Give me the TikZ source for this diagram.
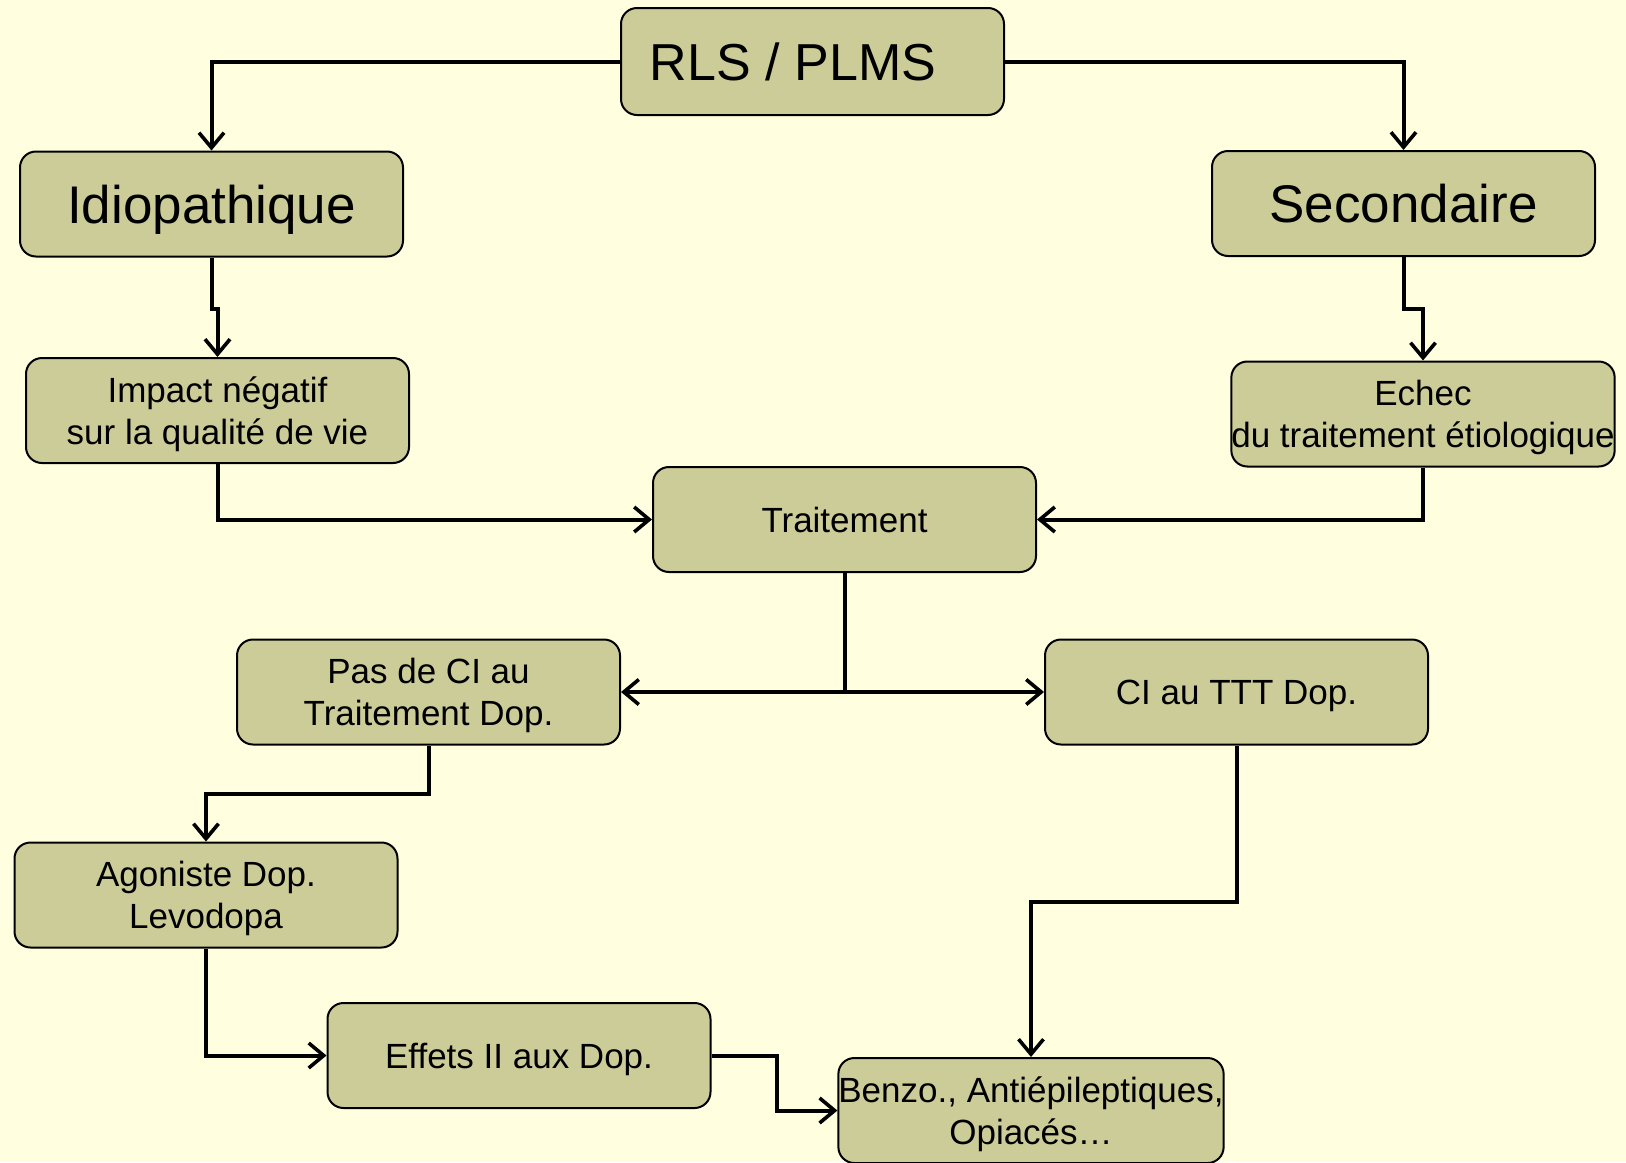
\documentclass[tikz,border=0pt]{standalone}
\usepackage{fontspec}
\setmainfont{Liberation Sans}
\usetikzlibrary{arrows.meta}
\definecolor{bgyellow}{HTML}{FFFFE0}
\definecolor{boxfill}{HTML}{CCCC99}
\tikzset{
  box/.style={draw=black, line width=1pt, fill=boxfill, rounded corners=8pt,
    minimum width=191.5pt, minimum height=52.5pt, inner sep=0pt, align=center,
    text depth=-2pt, font=\fontsize{17.5}{21}\selectfont},
  bigbox/.style={box, text depth=0pt, font=\fontsize{26.5}{30}\selectfont},
  conn/.style={line width=2pt, line join=miter},
  arr/.style={conn, -{Straight Barb[length=7.5pt,width=12.5pt,line width=1.8pt]}}
}
\begin{document}
\begin{tikzpicture}[x=0.5pt, y=-0.5pt]
\fill[bgyellow] (0,0) rectangle (1626,1162);
\useasboundingbox (0,0) rectangle (1626,1162);

\node[bigbox, minimum height=53.5pt] (rls) at (812.5,61.5) {};
\node[font=\fontsize{26}{30}\selectfont, text depth=0pt, inner sep=0pt] (rlst) at (793,61.5) {RLS / PLMS};
\node[bigbox] (idio) at (211.5,204) {Idiopathique};
\node[bigbox] (sec) at (1403.5,203.5) {Secondaire};
\node[box] (impact) at (217.5,410.5) {Impact négatif\\sur la qualité de vie};
\node[box] (echec) at (1423,414) {Echec\\du traitement étiologique};
\node[box] (trait) at (844.5,519.5) {Traitement};
\node[box] (pas) at (428.5,692) {Pas de CI au\\Traitement Dop.};
\node[box] (ci) at (1236.5,692) {CI au TTT Dop.};
\node[box] (ago) at (206,895) {Agoniste Dop.\\Levodopa};
\node[box] (eff) at (519,1055.5) {Effets II aux Dop.};
\node[box] (benzo) at (1031,1110.5) {Benzo., Antiépileptiques,\\Opiacés…};

\draw[arr] (rls.west) -| (idio.north);
\draw[arr] (rls.east) -| (sec.north);
\draw[arr] (idio.south) -- ++(0,51) -| (impact.north);
\draw[arr] (sec.south) -- ++(0,52) -| (echec.north);
\draw[arr] (impact.south) |- (trait.west);
\draw[arr] (echec.south) |- (trait.east);
\coordinate (split) at (trait.south |- pas.east);
\draw[conn] (trait.south) -- (split);
\draw[arr] (split) -- (pas.east);
\draw[arr] (split) -- (ci.west);
\draw[arr] (pas.south) -- ++(0,48) -| (ago.north);
\draw[arr] (ago.south) |- (eff.west);
\draw[arr] (eff.east) -- ++(65,0) |- (benzo.west);
\draw[arr] (ci.south) -- ++(0,156) -| (benzo.north);
\end{tikzpicture}
\end{document}
